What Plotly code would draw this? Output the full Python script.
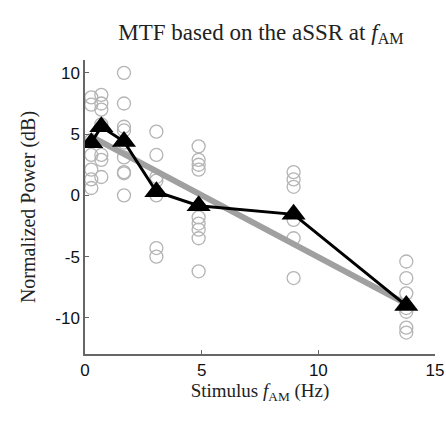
import plotly.graph_objects as go

# Stimulus AM frequencies (Hz)
freqs = [0.27, 0.7, 1.67, 3.06, 4.87, 8.94, 13.77]

# Individual subject normalized power (dB) per frequency
subj_027 = [8.0, 7.4, 4.5, 3.3, 2.1, 1.3, 0.6]
subj_070 = [8.2, 7.5, 7.0, 5.8, 3.3, 2.9, 1.5]
subj_167 = [10.0, 7.5, 5.6, 5.3, 4.3, 3.1, 1.9, 1.8, 0.0]
subj_306 = [5.2, 3.3, 1.5, 1.2, 0.0, -4.3, -5.0]
subj_487 = [4.0, 2.9, 2.5, 2.1, -1.8, -2.3, -2.8, -3.5, -6.2]
subj_894 = [1.9, 1.3, 0.7, -2.0, -3.5, -6.75]
subj_1377 = [-5.4, -6.75, -8.0, -9.2, -9.5, -10.8, -11.2]
subjects = [subj_027, subj_070, subj_167, subj_306, subj_487, subj_894, subj_1377]

# Group mean per frequency
mean_power = [4.3, 5.6, 4.4, 0.3, -0.85, -1.55, -9.0]

# Linear fit endpoints
fit_x = [0.27, 13.77]
fit_y = [4.8, -8.85]

x_ticks = [0, 5, 10, 15]
x_ticktext = ["0", "5", "10", "15"]
y_ticks = [-10, -5, 0, 5, 10]
y_ticktext = ["-10", "-5", "0", "5", "10"]

fig = go.Figure()

cx, cy = [], []
for f, vals in zip(freqs, subjects):
    for v in vals:
        cx.append(f)
        cy.append(v)

fig.add_trace(go.Scatter(
    x=cx, y=cy, mode="markers",
    marker=dict(symbol="circle-open", size=13, color="#b4b4b4", line=dict(width=1.3, color="#b4b4b4")),
    showlegend=False, hoverinfo="skip"))

fig.add_trace(go.Scatter(
    x=fit_x, y=fit_y, mode="lines",
    line=dict(color="#a0a0a0", width=6),
    showlegend=False))

fig.add_trace(go.Scatter(
    x=freqs, y=mean_power, mode="lines+markers",
    line=dict(color="black", width=3),
    marker=dict(symbol="triangle-up", size=21, color="black"),
    showlegend=False))

serif = "Liberation Serif, Times New Roman, serif"
sans = "Liberation Sans, Arial, sans-serif"

fig.update_layout(
    width=446, height=421,
    margin=dict(l=85, r=11, t=60, b=67),
    paper_bgcolor="white", plot_bgcolor="white",
    title=dict(text="MTF based on the aSSR at <i>f</i><sub>AM</sub>",
               font=dict(family=serif, size=23, color="#222"),
               x=0.585, xanchor="center", y=0.925, yanchor="middle"),
    xaxis=dict(range=[0, 15], tickvals=x_ticks, ticktext=x_ticktext, ticks="inside", ticklen=4,
               tickcolor="#666", showline=True, linecolor="#666", linewidth=1.5,
               showgrid=False, zeroline=False, automargin=False, ticklabeloverflow="allow",
               tickfont=dict(family=sans, size=17, color="#111"),
               title=dict(text="Stimulus <i>f</i><sub>AM</sub> (Hz)",
                          font=dict(family=serif, size=19, color="#222"), standoff=4)),
    yaxis=dict(range=[-12.95, 11.05], tickvals=y_ticks, ticktext=y_ticktext, ticks="inside", ticklen=4,
               tickcolor="#666", showline=True, linecolor="#666", linewidth=1.5,
               showgrid=False, zeroline=False, automargin=False,
               tickfont=dict(family=sans, size=17, color="#111"),
               title=dict(text="Normalized Power (dB)",
                          font=dict(family=serif, size=20, color="#222"), standoff=14)),
)

fig.write_html("out.html", config={"displayModeBar": False},
               post_script="document.body.style.margin='0';")
